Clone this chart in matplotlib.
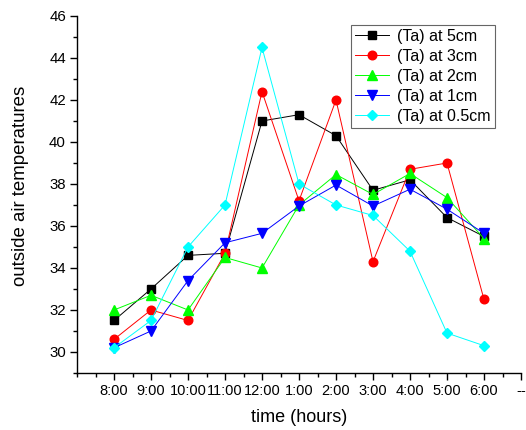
import matplotlib
matplotlib.use("Agg")
import matplotlib.pyplot as plt
from matplotlib.ticker import MultipleLocator

plt.rcParams['font.family'] = ['Liberation Sans', 'DejaVu Sans']

times = ["8:00", "9:00", "10:00", "11:00", "12:00", "1:00", "2:00",
         "3:00", "4:00", "5:00", "6:00"]
tick_labels = times + ["--"]

ta_5cm = [31.5, 33.0, 34.6, 34.7, 41.0, 41.3, 40.3, 37.7, 38.2, 36.4, 35.5]
ta_3cm = [30.6, 32.0, 31.5, 34.7, 42.4, 37.2, 42.0, 34.3, 38.7, 39.0, 32.5]
ta_2cm = [32.0, 32.7, 32.0, 34.5, 34.0, 37.0, 38.45, 37.5, 38.5, 37.35, 35.4]
ta_1cm = [30.2, 31.0, 33.4, 35.2, 35.65, 36.95, 37.95, 36.95, 37.75, 36.8, 35.65]
ta_05cm = [30.2, 31.5, 35.0, 37.0, 44.5, 38.0, 37.0, 36.5, 34.8, 30.9, 30.3]

series = [
    ("(Ta) at 5cm", ta_5cm, "black", "s", 5.4),
    ("(Ta) at 3cm", ta_3cm, "red", "o", 6.2),
    ("(Ta) at 2cm", ta_2cm, "#00ff00", "^", 6.9),
    ("(Ta) at 1cm", ta_1cm, "blue", "v", 6.9),
    ("(Ta) at 0.5cm", ta_05cm, "cyan", "D", 5.5),
]

fig = plt.figure(figsize=(5.26, 4.30), dpi=100)
ax = fig.add_axes([0.1464, 0.1326, 0.8441, 0.8302])

x = list(range(1, len(times) + 1))
for label, vals, color, marker, ms in series:
    ax.plot(x, vals, color=color, marker=marker, markersize=ms,
            linewidth=0.7, markeredgecolor=color, label=label)

ax.set_xlim(0, 12)
ax.set_ylim(29, 46)
ax.set_xticks(range(1, 13))
ax.set_xticklabels(tick_labels, fontsize=10.5)
ax.xaxis.set_minor_locator(MultipleLocator(0.5))
ax.yaxis.set_major_locator(MultipleLocator(2))
ax.yaxis.set_minor_locator(MultipleLocator(1))
ax.tick_params(axis='both', which='major', direction='out', length=5,
               width=1, labelsize=10.8, pad=3)
ax.tick_params(axis='x', which='major', labelsize=10.5)
ax.tick_params(axis='both', which='minor', direction='out', length=3, width=1)
ax.set_yticks(range(30, 47, 2))

for side in ("top", "right"):
    ax.spines[side].set_visible(False)
for side in ("left", "bottom"):
    ax.spines[side].set_linewidth(1)

ax.set_xlabel("time (hours)", fontsize=13, labelpad=8)
ax.set_ylabel("outside air temperatures", fontsize=13.4)
ax.yaxis.set_label_coords(-0.108, 0.525)

leg = ax.legend(loc="upper right", bbox_to_anchor=(0.9414, 0.975),
                borderaxespad=0, fontsize=11.5, frameon=True, fancybox=False,
                edgecolor="#404040", handlelength=2.1, borderpad=0.25,
                labelspacing=0.31, handletextpad=0.55)
leg.get_frame().set_linewidth(0.8)

fig.savefig("out.png", dpi=100)
